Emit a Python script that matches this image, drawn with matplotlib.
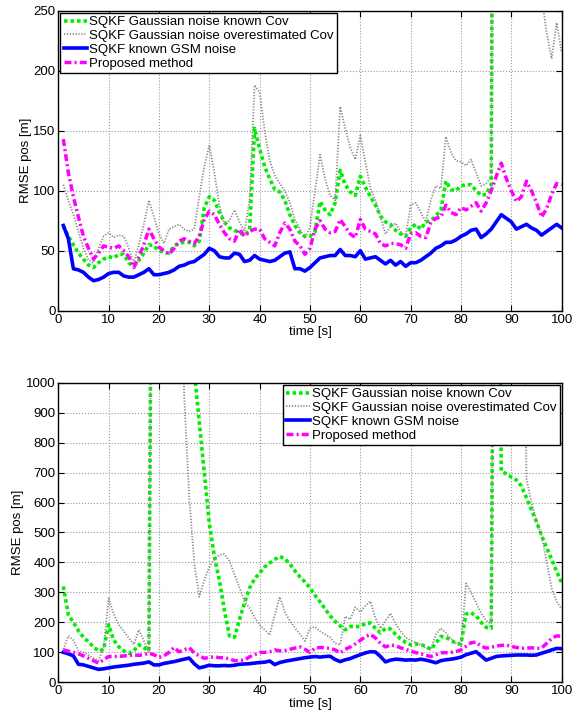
import numpy as np
import matplotlib
matplotlib.use("Agg")
import matplotlib.pyplot as plt

plt.rcParams["font.family"] = ["Liberation Sans", "DejaVu Sans"]

time_s = np.arange(1, 101)

LABELS = ["SQKF Gaussian noise known Cov", "SQKF Gaussian noise overestimated Cov",
          "SQKF known GSM noise", "Proposed method"]

# ---- top panel: RMSE pos [m] ----
top_known = [71, 62, 55, 48, 43, 38, 36, 40, 43, 45,
             44, 47, 47, 40, 37, 42, 48, 55, 54, 50,
             49, 48, 54, 56, 57, 57, 54, 58, 86, 95,
             92, 82, 74, 69, 67, 65, 63, 67, 152, 135,
             120, 110, 101, 99, 92, 80, 71, 65, 62, 62,
             66, 91, 84, 80, 90, 117, 105, 99, 96, 112,
             103, 95, 88, 79, 74, 72, 67, 64, 62, 69,
             72, 68, 74, 75, 79, 84, 108, 101, 100, 104,
             105, 105, 100, 96, 97, 105, 1200, 1200, 1100, 1000,
             900, 800, 700, 650, 600, 550, 500, 450, 420, 400]
top_over = [105, 92, 80, 66, 52, 42, 40, 52, 62, 65,
            61, 63, 62, 52, 40, 55, 72, 92, 78, 64,
            56, 68, 70, 72, 68, 66, 68, 95, 120, 138,
            115, 88, 72, 75, 84, 74, 66, 92, 188, 182,
            150, 125, 113, 106, 100, 90, 76, 68, 60, 70,
            100, 130, 110, 96, 92, 170, 152, 136, 126, 146,
            124, 102, 92, 78, 64, 70, 73, 66, 62, 88,
            90, 82, 74, 92, 104, 102, 145, 132, 125, 124,
            121, 126, 115, 104, 106, 112, 1200, 1200, 1100, 1000,
            900, 800, 700, 600, 450, 262, 232, 210, 240, 215]
top_gsm = [71, 60, 35, 34, 32, 28, 25, 26, 28, 31,
           32, 32, 29, 28, 28, 30, 32, 35, 30, 30,
           31, 32, 34, 37, 38, 40, 41, 44, 47, 52,
           50, 45, 44, 44, 48, 47, 41, 42, 46, 43,
           42, 41, 42, 45, 48, 49, 35, 35, 33, 36,
           40, 44, 45, 46, 46, 51, 46, 46, 45, 50,
           43, 44, 45, 42, 39, 42, 38, 41, 37, 40,
           40, 42, 45, 48, 52, 54, 57, 57, 59, 62,
           64, 67, 68, 61, 64, 68, 74, 80, 77, 74,
           68, 70, 72, 69, 67, 63, 66, 69, 72, 69]
top_prop = [143, 115, 95, 78, 62, 52, 43, 48, 54, 53,
            52, 54, 50, 45, 36, 45, 55, 68, 60, 53,
            50, 47, 52, 58, 60, 58, 56, 62, 76, 83,
            80, 72, 65, 60, 58, 68, 62, 66, 68, 68,
            60, 57, 54, 65, 73, 68, 58, 54, 47, 52,
            68, 75, 68, 65, 66, 76, 70, 64, 61, 76,
            68, 66, 64, 56, 54, 56, 56, 55, 52, 64,
            65, 62, 61, 73, 77, 78, 88, 82, 80, 86,
            84, 87, 90, 83, 90, 100, 112, 123, 110, 100,
            91, 95, 108, 100, 90, 78, 85, 97, 106, 105]

# ---- bottom panel: RMSE pos [m] ----
bot_known = [320, 225, 200, 172, 150, 135, 118, 104, 110, 192,
             141, 119, 105, 96, 105, 125, 115, 105, 3000, 3000,
             3000, 3000, 3000, 3000, 3000, 3000, 1040, 870, 700, 530,
             420, 340, 240, 155, 150, 210, 265, 315, 345, 365,
             385, 398, 410, 420, 412, 395, 372, 352, 335, 315,
             290, 268, 245, 222, 203, 188, 175, 186, 186, 186,
             196, 198, 180, 165, 180, 178, 160, 145, 133, 125,
             128, 126, 120, 110, 130, 153, 150, 140, 130, 128,
             228, 232, 222, 200, 183, 180, 3000, 705, 695, 685,
             675, 655, 615, 575, 535, 490, 450, 410, 370, 332]
bot_over = [110, 155, 140, 105, 100, 90, 80, 72, 115, 280,
            228, 192, 170, 148, 126, 175, 138, 100, 3000, 3000,
            3000, 3000, 3000, 1800, 960, 620, 400, 285, 340, 385,
            412, 425, 428, 405, 360, 315, 270, 248, 215, 192,
            175, 158, 225, 285, 235, 205, 182, 160, 138, 180,
            185, 170, 160, 150, 130, 125, 220, 210, 250, 235,
            255, 270, 215, 180, 205, 230, 195, 170, 150, 140,
            132, 125, 115, 108, 160, 180, 165, 145, 130, 120,
            330, 300, 265, 230, 205, 195, 3000, 3000, 3000, 3000,
            3000, 2000, 680, 600, 540, 490, 403, 314, 269, 245]
bot_gsm = [100, 95, 88, 60, 58, 53, 48, 43, 45, 48,
           51, 53, 55, 57, 60, 62, 64, 68, 58, 58,
           63, 66, 69, 73, 77, 81, 62, 48, 52, 57,
           55, 55, 56, 55, 57, 60, 61, 62, 64, 66,
           67, 71, 59, 66, 70, 73, 76, 79, 82, 84,
           86, 84, 86, 87, 76, 69, 75, 79, 86, 92,
           98, 102, 101, 86, 68, 74, 77, 76, 74, 75,
           74, 77, 74, 70, 65, 72, 75, 77, 80, 84,
           92, 97, 102, 88, 74, 80, 86, 88, 89, 90,
           91, 91, 91, 90, 91, 97, 102, 108, 113, 112]
bot_prop = [108, 104, 100, 95, 88, 80, 72, 64, 75, 86,
            86, 86, 88, 89, 91, 90, 92, 97, 92, 83,
            88, 100, 116, 102, 108, 116, 98, 88, 80, 83,
            85, 82, 82, 78, 72, 73, 74, 85, 92, 99,
            100, 102, 108, 105, 106, 110, 114, 118, 110, 100,
            114, 116, 115, 113, 108, 98, 110, 118, 128, 140,
            152, 160, 148, 130, 118, 124, 122, 115, 110, 104,
            99, 95, 90, 86, 92, 98, 99, 100, 103, 108,
            120, 132, 134, 120, 114, 117, 121, 123, 124, 120,
            116, 113, 114, 115, 113, 114, 130, 146, 155, 153]

# drawn in this order: the known-GSM and proposed curves sit over the Gaussian ones
STYLES = [dict(color="#00EE00", lw=2.6, ls=(0, (1, 0.8))),
          dict(color="#8c8c8c", lw=1.3, ls=(0, (0.7, 0.9))),
          dict(color="#0000FF", lw=2.6, ls="-"),
          dict(color="#FF00FF", lw=2.5, ls=(0, (2, 0.9, 0.6, 0.9)))]


def panel(ax, series, ymax, ystep, legend_loc):
    for y, st, lab in zip(series, STYLES, LABELS):
        ax.plot(time_s, y, label=lab, **st)
    ax.set_xlim(0, 100); ax.set_ylim(0, ymax)
    ax.set_xticks(np.arange(0, 101, 10)); ax.set_yticks(np.arange(0, ymax + 1, ystep))
    ax.grid(True, ls=":", lw=0.8, color="#9a9a9a")
    ax.tick_params(direction="in", top=True, right=True, labelsize=9.5, length=4, width=0.8, pad=2)
    for s in ax.spines.values():
        s.set_linewidth(1.0)
    ax.set_xlabel("time [s]", fontsize=9.5, labelpad=0.5)
    ax.set_ylabel("RMSE pos [m]", fontsize=9.5, labelpad=1)
    leg = ax.legend(loc=legend_loc, fontsize=9.5, fancybox=False, framealpha=1, edgecolor="black",
                    handlelength=1.8, handletextpad=0.15, labelspacing=0.12, borderpad=0.25,
                    borderaxespad=0.15)
    leg.get_frame().set_linewidth(1.0)


fig = plt.figure(figsize=(5.84, 7.13), dpi=100)
ax1 = fig.add_axes([0.0998, 0.5642, 0.862, 0.4208])
ax2 = fig.add_axes([0.0998, 0.0431, 0.862, 0.4202])
panel(ax1, [top_known, top_over, top_gsm, top_prop], 250, 50, "upper left")
panel(ax2, [bot_known, bot_over, bot_gsm, bot_prop], 1000, 100, "upper right")
fig.savefig("out.png", dpi=100)
